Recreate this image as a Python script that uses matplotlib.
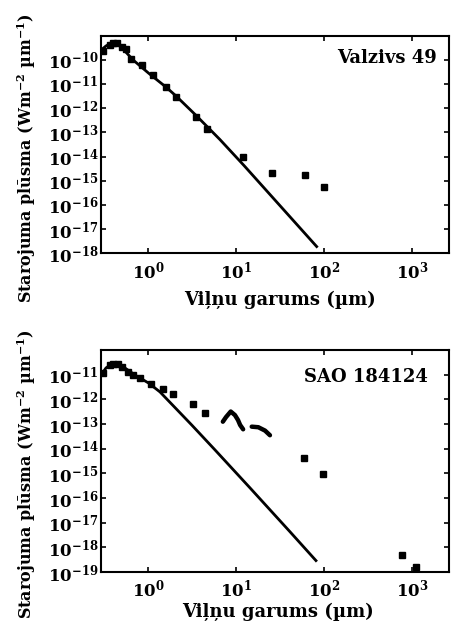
import matplotlib
matplotlib.use("Agg")
import matplotlib.pyplot as plt
from matplotlib.ticker import FixedLocator, LogFormatterSciNotation, NullLocator

plt.rcParams['font.family'] = 'serif'
plt.rcParams['font.serif'] = ['DejaVu Serif']
plt.rcParams['font.weight'] = 'bold'
plt.rcParams['mathtext.fontset'] = 'custom'
for k in ['rm', 'it', 'bf', 'sf']:
    plt.rcParams['mathtext.' + k] = 'DejaVu Serif:bold'

# ---------------- data: Valzivs 49 ----------------
v49_model_wl = [0.289, 0.329, 0.385, 0.45, 0.527, 0.667, 1.0, 1.58, 2.05, 3.47, 6.49, 12.2, 24.0, 81.5]
v49_model_flux = [2.5e-10, 3.7e-10, 5.1e-10, 4.5e-10, 2.5e-10, 9.8e-11, 2.8e-11, 7.4e-12, 3.2e-12,
                  5.0e-13, 5.0e-14, 4.2e-15, 2.7e-16, 1.9e-18]
v49_obs_wl = [0.306, 0.365, 0.398, 0.44, 0.50, 0.555, 0.63, 0.84, 1.13, 1.58, 2.05, 3.47, 4.66,
              12.0, 25.0, 60.0, 100.0]
v49_obs_flux = [2.3e-10, 4.1e-10, 5.1e-10, 4.7e-10, 3.2e-10, 2.8e-10, 1.1e-10, 6.0e-11, 2.3e-11,
                7.6e-12, 2.9e-12, 4.2e-13, 1.4e-13, 1.0e-14, 2.1e-15, 1.7e-15, 5.7e-16]

# ---------------- data: SAO 184124 ----------------
sao_model_wl = [0.289, 0.329, 0.385, 0.45, 0.54, 0.70, 1.0, 1.35, 3.10, 5.70, 14.2, 40.5, 80.0]
sao_model_flux = [9.7e-12, 1.87e-11, 2.8e-11, 2.6e-11, 1.87e-11, 9.7e-12, 4.6e-12, 2.0e-12,
                  9.1e-14, 8.9e-15, 2.6e-16, 4.3e-18, 2.9e-19]
sao_obs_wl = [0.306, 0.365, 0.398, 0.454, 0.50, 0.59, 0.67, 0.80, 1.07, 1.47, 1.91, 3.2, 4.33,
              58.0, 97.0, 770.0, 1107.0]
sao_obs_flux = [1.14e-11, 2.5e-11, 2.8e-11, 2.6e-11, 2.1e-11, 1.3e-11, 9.7e-12, 7.1e-12, 4.2e-12,
                2.7e-12, 1.6e-12, 6.3e-13, 2.9e-13, 4.1e-15, 9.1e-16, 4.8e-19, 1.66e-19]
sao_lrs1_wl = [7.0, 7.6, 8.6, 9.6, 10.4, 11.0, 11.9]
sao_lrs1_flux = [1.24e-13, 1.9e-13, 3.2e-13, 2.3e-13, 1.45e-13, 9.1e-14, 6.1e-14]
sao_lrs2_wl = [14.9, 17.7, 21.1, 24.0]
sao_lrs2_flux = [7.8e-14, 7.4e-14, 5.4e-14, 3.5e-14]

x_ticks = [1e0, 1e1, 1e2, 1e3]
top_yticks = [10.0 ** e for e in range(-18, -9)]
bot_yticks = [10.0 ** e for e in range(-19, -10)]

W, H = 452, 624
fig = plt.figure(figsize=(W / 100, H / 100), dpi=100)
ax1 = fig.add_axes([101 / W, 1 - 253.3 / H, 348 / W, 217.8 / H])
ax2 = fig.add_axes([101 / W, 1 - 572 / H, 348 / W, 222 / H])

def style(ax, yticks, ylim):
    ax.set_xscale('log')
    ax.set_yscale('log')
    ax.set_xlim(0.2886, 2600)
    ax.set_ylim(*ylim)
    ax.xaxis.set_major_locator(FixedLocator(x_ticks))
    ax.yaxis.set_major_locator(FixedLocator(yticks))
    ax.xaxis.set_minor_locator(NullLocator())
    ax.yaxis.set_minor_locator(NullLocator())
    ax.xaxis.set_major_formatter(LogFormatterSciNotation())
    ax.yaxis.set_major_formatter(LogFormatterSciNotation())
    ax.tick_params(which='both', direction='in', top=True, right=True, length=3.5, width=1.2,
                   labelsize=12)
    ax.tick_params(axis='x', pad=5)
    ax.tick_params(axis='y', pad=2)
    for s in ax.spines.values():
        s.set_linewidth(1.5)

style(ax1, top_yticks, (1e-18, 1e-9))
style(ax2, bot_yticks, (1e-19, 1e-10))

ax1.plot(v49_model_wl, v49_model_flux, color='black', lw=2.0)
ax1.plot(v49_obs_wl, v49_obs_flux, 's', color='black', ms=4.5)

ax2.plot(sao_model_wl, sao_model_flux, color='black', lw=2.0)
ax2.plot(sao_obs_wl, sao_obs_flux, 's', color='black', ms=4.5)
ax2.plot(sao_lrs1_wl, sao_lrs1_flux, '-', color='black', lw=3.2, solid_capstyle='round')
ax2.plot(sao_lrs2_wl, sao_lrs2_flux, '-', color='black', lw=3.2, solid_capstyle='round')

ax1.text(0.966, 0.897, 'Valzivs 49', transform=ax1.transAxes, ha='right', va='center',
         fontsize=13, fontweight='bold')
ax2.text(0.94, 0.878, 'SAO 184124', transform=ax2.transAxes, ha='right', va='center',
         fontsize=13, fontweight='bold')

xlabel = 'Viļņu garums (µm)'
ylabel = r'Starojuma plūsma (Wm$^{-2}$ µm$^{-1}$)'
fig.text(280 / W, 1 - 300 / H, xlabel, ha='center', va='center', fontsize=13, fontweight='bold')
fig.text(278 / W, 1 - 612 / H, xlabel, ha='center', va='center', fontsize=13, fontweight='bold')
fig.text(27 / W, 1 - 158 / H, ylabel, rotation=90, ha='center', va='center', fontsize=11.5,
         fontweight='bold')
fig.text(27 / W, 1 - 474 / H, ylabel, rotation=90, ha='center', va='center', fontsize=11.5,
         fontweight='bold')

fig.savefig('out.png', dpi=100)
